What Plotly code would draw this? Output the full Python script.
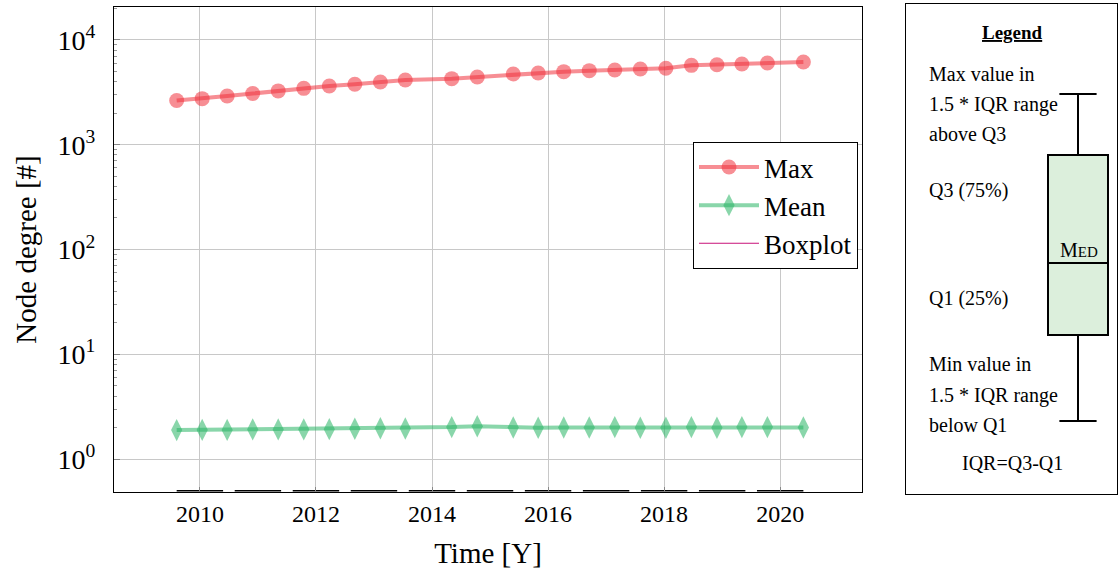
import plotly.graph_objects as go

# ---- data ----
time_years = [2009.60, 2010.04, 2010.47, 2010.91, 2011.35, 2011.79, 2012.23, 2012.67,
              2013.11, 2013.54, 2014.34, 2014.78, 2015.40, 2015.83, 2016.27, 2016.71,
              2017.15, 2017.59, 2018.03, 2018.47, 2018.91, 2019.34, 2019.78, 2020.40]
max_degree = [2640, 2750, 2920, 3080, 3260, 3450, 3630, 3770,
              3970, 4140, 4270, 4430, 4730, 4830, 4980, 5090,
              5160, 5280, 5360, 5720, 5800, 5890, 6020, 6150]
mean_degree = [1.89, 1.90, 1.90, 1.92, 1.92, 1.92, 1.93, 1.95,
               1.97, 1.96, 2.02, 2.06, 2.00, 1.99, 2.00, 2.00,
               2.02, 1.99, 1.99, 2.02, 1.99, 2.02, 2.02, 2.00]
box_years = [2010, 2011, 2012, 2013, 2014, 2015, 2016, 2017, 2018, 2019, 2020]
box_level = [0.5] * len(box_years)   # boxplots collapsed at the bottom of the axis

y_tickvals = [1, 10, 100, 1000, 10000]
y_ticktext = ["10<sup>0</sup>", "10<sup>1</sup>", "10<sup>2</sup>", "10<sup>3</sup>", "10<sup>4</sup>"]
x_tickvals = [2010, 2012, 2014, 2016, 2018, 2020]

# legend-panel example boxplot (panel units, measured up from the panel bottom)
ex_upper, ex_q3, ex_med, ex_q1, ex_lower = 400, 339, 231, 159, 73

FONT = "Liberation Serif"
W, H = 1119, 579
PANEL_BOTTOM = 494

def px(x):
    return x / W

def py(y):
    return 1 - y / H

def pan(y):
    return PANEL_BOTTOM - y

minor_vals = [m * d for d in (1, 10, 100, 1000, 10000) for m in range(2, 10)]

fig = go.Figure()

fig.add_trace(go.Box(
    x=box_years, q1=box_level, median=box_level, q3=box_level,
    lowerfence=box_level, upperfence=box_level, width=0.8,
    line=dict(color="black", width=1.5), fillcolor="rgba(0,0,0,0)",
    showlegend=False, hoverinfo="skip", xaxis="x", yaxis="y"))

fig.add_trace(go.Scatter(
    x=time_years, y=max_degree, name="Max", mode="lines+markers",
    line=dict(color="rgba(240,50,60,0.55)", width=4),
    marker=dict(symbol="circle", size=15, color="rgba(240,50,60,0.55)", line=dict(width=0))))

fig.add_trace(go.Scatter(
    x=time_years, y=mean_degree, name="Mean", mode="lines+markers",
    line=dict(color="rgba(40,180,100,0.55)", width=4),
    marker=dict(symbol="diamond-tall", size=16, color="rgba(40,180,100,0.55)", line=dict(width=0))))

fig.add_trace(go.Scatter(
    x=[None], y=[None], name="Boxplot", mode="lines",
    line=dict(color="#c8127a", width=1)))

# example box in the legend panel
fig.add_trace(go.Box(
    x=[1078], q1=[ex_q1], median=[ex_med], q3=[ex_q3],
    lowerfence=[ex_lower], upperfence=[ex_upper], width=60, whiskerwidth=0.62,
    line=dict(color="black", width=2), fillcolor="#dcefdc",
    showlegend=False, hoverinfo="skip", xaxis="x2", yaxis="y2"))

grid = "#c8c8c8"
fig.update_layout(
    width=W, height=H,
    margin=dict(l=0, r=0, t=0, b=0),
    paper_bgcolor="white", plot_bgcolor="white",
    font=dict(family=FONT, size=22, color="black"),
    showlegend=True,
    legend=dict(x=px(858), xanchor="right", y=py(142), yanchor="top",
                bordercolor="black", borderwidth=1, bgcolor="white",
                font=dict(family=FONT, size=27), itemwidth=60,
                tracegroupgap=0),
    xaxis=dict(domain=[px(114), px(862)], range=[2008.52, 2021.41],
               tickvals=x_tickvals, ticks="inside", ticklen=5, tickcolor="#888",
               showgrid=True, gridcolor=grid, gridwidth=1,
               showline=True, linecolor="black", linewidth=1, mirror=True,
               zeroline=False, automargin=False,
               tickfont=dict(size=24),
               title=dict(text="Time [Y]", font=dict(size=29), standoff=16),
               anchor="y"),
    yaxis=dict(domain=[py(492), py(7)], type="log", range=[-0.314, 4.314],
               tickvals=y_tickvals, ticktext=y_ticktext,
               ticks="inside", ticklen=6, tickcolor="#888",
               ticklabelstandoff=12,
               minor=dict(tickvals=minor_vals, ticks="inside", ticklen=3,
                          tickcolor="#999", showgrid=False),
               showgrid=True, gridcolor=grid, gridwidth=1,
               showline=True, linecolor="black", linewidth=1, mirror=True,
               zeroline=False, automargin=False,
               tickfont=dict(size=28),
               title=dict(text="Node degree [#]", font=dict(size=29), standoff=12),
               anchor="x"),
    xaxis2=dict(domain=[px(906), px(1117)], range=[906, 1117],
                showgrid=False, zeroline=False, showticklabels=False, ticks="",
                showline=True, linecolor="black", linewidth=1, mirror=True,
                automargin=False, anchor="y2", fixedrange=True),
    yaxis2=dict(domain=[py(494), py(4)], range=[0, 490],
                showgrid=False, zeroline=False, showticklabels=False, ticks="",
                showline=True, linecolor="black", linewidth=1, mirror=True,
                automargin=False, anchor="x2", fixedrange=True),
)

panel_font = dict(family=FONT, size=20, color="black")
ann = []
ann.append(dict(x=1012, y=pan(33), text="<b>Legend</b>", xref="x2", yref="y2",
                showarrow=False, xanchor="center", yanchor="middle",
                font=dict(family=FONT, size=19, color="black", lineposition="under")))
left_lines = [("Max value in", 74), ("1.5 * IQR range", 104), ("above Q3", 134),
              ("Q3 (75%)", 190), ("Q1 (25%)", 298),
              ("Min value in", 364), ("1.5 * IQR range", 395), ("below Q1", 425)]
for t, yy in left_lines:
    ann.append(dict(x=927, y=pan(yy), text=t, xref="x2", yref="y2", showarrow=False,
                    xanchor="left", yanchor="middle", font=panel_font))
ann.append(dict(x=1012, y=pan(463), text="IQR=Q3-Q1", xref="x2", yref="y2", showarrow=False,
                xanchor="center", yanchor="middle", font=panel_font))
ann.append(dict(x=1079, y=pan(250), text="M<span style='font-size:15px'>ED</span>",
                xref="x2", yref="y2", showarrow=False,
                xanchor="center", yanchor="middle", font=panel_font))
fig.update_layout(annotations=ann)

fig.write_html("out.html", config={"displayModeBar": False},
               post_script="document.body.style.margin='0px';")
